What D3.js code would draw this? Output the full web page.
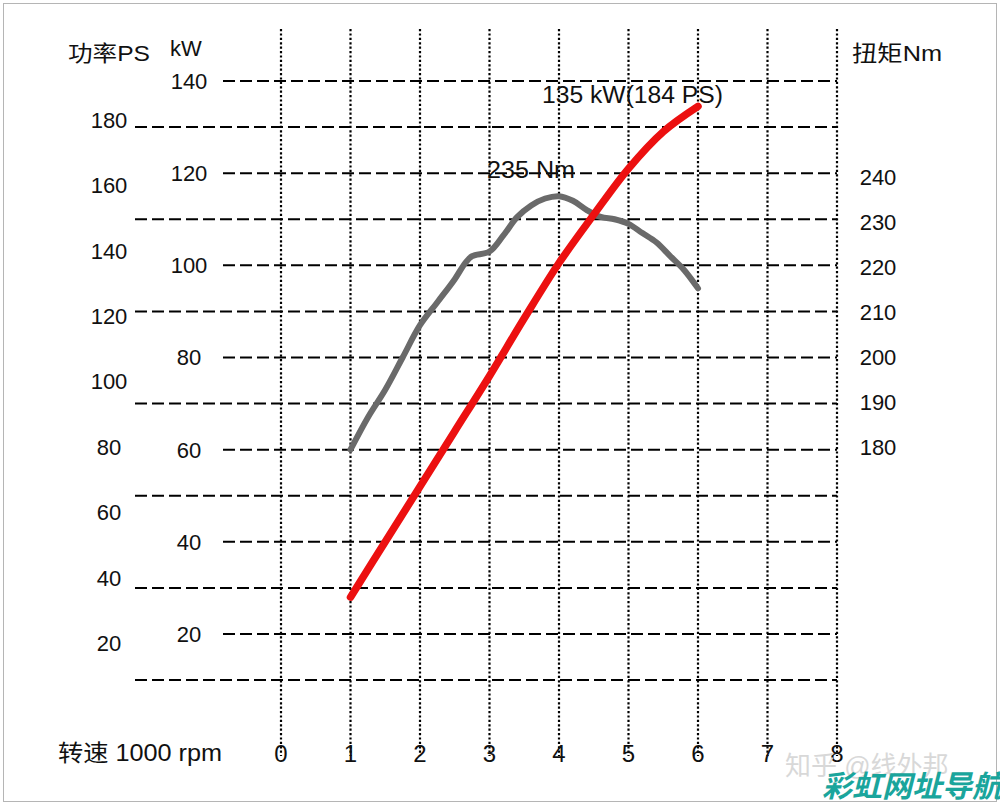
<!DOCTYPE html>
<html><head><meta charset="utf-8">
<script src="https://cdn.jsdelivr.net/npm/d3@7"></script>
<style>
html,body{margin:0;padding:0;background:#fff;}
text{font-family:"Liberation Sans",Arial,sans-serif;fill:#111;}
.cjk{font-family:"Liberation Sans","Noto Sans CJK SC",sans-serif;}
</style></head>
<body>
<svg id="chart" width="1000" height="806"></svg>
<script>
// ---- data ----
const rpmTicks = [0,1,2,3,4,5,6,7,8];
const kwTicks = [20,40,60,80,100,120,140];
const kwMidLines = [10,30,50,70,90,110,130];
const psTicks = [20,40,60,80,100,120,140,160,180];
const nmTicks = [180,190,200,210,220,230,240];

const powerRpm = [1,1.5,2,2.5,3,3.5,4,4.5,5,5.5,6];
const powerKw  = [28,40,52,64,76,88.5,100.5,111,121,129,134.5];

const torqueRpm = [1,1.25,1.5,1.75,2,2.25,2.5,2.65,2.75,3,3.2,3.4,3.6,3.8,4,4.2,4.4,4.6,4.8,5,5.2,5.4,5.6,5.8,6];
const torqueNm  = [180,187,193,200,207,212,217,220.5,222,223,226.5,230.5,233,234.5,235,234,232,230.5,230,229,227,225,222,219,215];

const svg = d3.select("#chart");

// border
svg.append("rect").attr("x",3.5).attr("y",3.5).attr("width",993).attr("height",798)
  .attr("fill","none").attr("stroke","#b5b5b5").attr("stroke-width",1);

// scales
const x = d3.scaleLinear().domain([0,8]).range([281,837]);
const yKw = d3.scaleLinear().domain([20,140]).range([634,81]);
const yNm = d3.scaleLinear().domain([180,240]).range([yKw(60), yKw(120)]);
const yNmLabel = d3.scaleLinear().domain([180,240]).range([447,177]);
const yPs = d3.scaleLinear().domain([20,180]).range([643,120]);

const gGrid = svg.append("g");
// vertical dotted
gGrid.selectAll("line.v").data(rpmTicks).join("line")
  .attr("x1",d=>x(d)).attr("x2",d=>x(d)).attr("y1",29).attr("y2",756)
  .attr("stroke","#000").attr("stroke-width",2.2).attr("stroke-dasharray","2.2,2.2");
// short dashed (kW ticks)
gGrid.selectAll("line.k").data(kwTicks).join("line")
  .attr("x1",223).attr("x2",x(8)).attr("y1",d=>yKw(d)).attr("y2",d=>yKw(d))
  .attr("stroke","#000").attr("stroke-width",2).attr("stroke-dasharray","12,5");
// long dashed lines
gGrid.selectAll("line.m").data(kwMidLines).join("line")
  .attr("x1",135).attr("x2",x(8)).attr("y1",d=>yKw(d)).attr("y2",d=>yKw(d))
  .attr("stroke","#000").attr("stroke-width",2).attr("stroke-dasharray","12,5");

// curves
const torqueLine = d3.line().x((d,i)=>x(torqueRpm[i])).y(d=>yNm(d)).curve(d3.curveCatmullRom.alpha(0.5));
svg.append("path").datum(torqueNm).attr("d",torqueLine)
  .attr("fill","none").attr("stroke","#6a6a6a").attr("stroke-width",6)
  .attr("stroke-linecap","round").attr("stroke-linejoin","round");

const powerLine = d3.line().x((d,i)=>x(powerRpm[i])).y(d=>yKw(d)).curve(d3.curveCatmullRom.alpha(0.5));
svg.append("path").datum(powerKw).attr("d",powerLine)
  .attr("fill","none").attr("stroke","#ec1010").attr("stroke-width",7.5)
  .attr("stroke-linecap","round").attr("stroke-linejoin","round");

// axis labels
const fs = 22;
svg.selectAll("text.ps").data(psTicks).join("text")
  .attr("x",109).attr("y",d=>yPs(d)).attr("dy","0.36em").attr("text-anchor","middle")
  .attr("font-size",fs).text(d=>d);
svg.selectAll("text.kw").data(kwTicks).join("text")
  .attr("x",189).attr("y",d=>yKw(d)).attr("dy","0.36em").attr("text-anchor","middle")
  .attr("font-size",fs).text(d=>d);
svg.selectAll("text.nm").data(nmTicks).join("text")
  .attr("x",878).attr("y",d=>yNmLabel(d)).attr("dy","0.36em").attr("text-anchor","middle")
  .attr("font-size",fs).text(d=>d);
svg.selectAll("text.rpm").data(rpmTicks).join("text")
  .attr("x",d=>x(d)).attr("y",753).attr("dy","0.36em").attr("text-anchor","middle")
  .attr("font-size",24).text(d=>d);

// titles
svg.append("text").attr("class","cjk").attr("x",68).attr("y",53).attr("dy","0.36em")
  .attr("font-size",22).attr("textLength",82).attr("lengthAdjust","spacingAndGlyphs").text("功率PS");
svg.append("text").attr("x",170).attr("y",48).attr("dy","0.36em")
  .attr("font-size",fs).text("kW");
svg.append("text").attr("class","cjk").attr("x",852).attr("y",53).attr("dy","0.36em")
  .attr("font-size",22).attr("textLength",90).attr("lengthAdjust","spacingAndGlyphs").text("扭矩Nm");
svg.append("text").attr("class","cjk").attr("x",58).attr("y",753).attr("dy","0.36em")
  .attr("font-size",23).attr("textLength",164).attr("lengthAdjust","spacingAndGlyphs").text("转速 1000 rpm");

// annotations
svg.append("text").attr("x",542).attr("y",95).attr("dy","0.36em")
  .attr("font-size",23).attr("textLength",181).attr("lengthAdjust","spacingAndGlyphs").text("135 kW(184 PS)");
svg.append("text").attr("x",487).attr("y",170).attr("dy","0.36em")
  .attr("font-size",23).attr("textLength",88).attr("lengthAdjust","spacingAndGlyphs").text("235 Nm");

// watermark
svg.append("text").attr("class","cjk").attr("x",785).attr("y",766).attr("dy","0.36em")
  .attr("font-size",26).style("fill","#d8d8d8").text("知乎 @线外邦");
svg.append("text").attr("class","cjk").attr("x",822).attr("y",786).attr("dy","0.36em")
  .attr("font-size",30).attr("font-weight","bold").attr("font-style","italic")
  .style("fill","#1aa59c").text("彩虹网址导航");
</script>
</body></html>
